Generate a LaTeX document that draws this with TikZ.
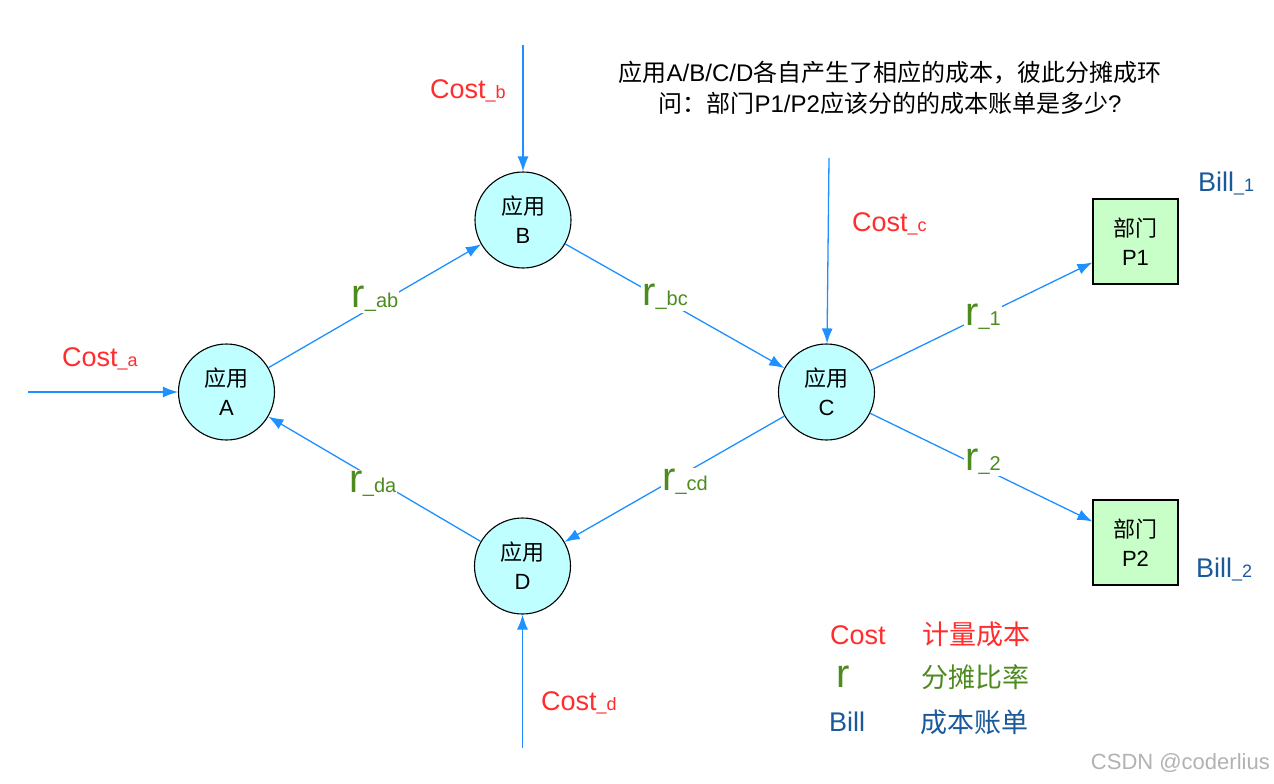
\documentclass[tikz,border=0pt]{standalone}
\usepackage{fontspec}
\setmainfont{Liberation Sans}
\newfontfamily\cjk{Noto Sans CJK SC}
\usetikzlibrary{arrows.meta}
\definecolor{flowblue}{HTML}{1E90FF}
\definecolor{cyanfill}{HTML}{C0FFFF}
\definecolor{greenfill}{HTML}{C8FFC8}
\definecolor{costred}{HTML}{FF2D2D}
\definecolor{rgreen}{HTML}{4D8B1F}
\definecolor{billblue}{HTML}{1A5A9A}
\newcommand\myfs[2]{\fontsize{#1}{#2}\selectfont}
\newcommand\zh[1]{{\cjk #1}}
\newcommand\rlab[1]{{\myfs{40}{40}r}{\myfs{20}{20}\_#1}}
\newcommand\costlab[1]{{\myfs{27}{27}Cost}{\myfs{18}{18}\_#1}}
\newcommand\billlab[1]{{\myfs{27}{27}Bill}{\myfs{18}{18}\_#1}}
\tikzset{
  app/.style={circle, draw=black, line width=1.1pt, fill=cyanfill, minimum size=96pt, inner sep=0pt, align=center, font=\myfs{22}{29}},
  dept/.style={rectangle, draw=black, line width=1.1pt, fill=greenfill, minimum width=85pt, minimum height=85pt, inner sep=0pt, align=center, font=\myfs{22}{29}},
  flow/.style={draw=flowblue, line width=1.3pt, -{Latex[length=15pt,width=11pt]}},
  rlbl/.style={fill=white, inner sep=1pt, text=rgreen},
  costtxt/.style={anchor=base west, inner sep=0pt, text=costred},
  billtxt/.style={anchor=base west, inner sep=0pt, text=billblue},
}
\begin{document}
\begin{tikzpicture}[x=1pt,y=-1pt]
\useasboundingbox[fill=white] (0,0) rectangle (1274,784);

% nodes
\node[app] (A) at (226.5,392) {\zh{应用}\\A};
\node[app] (B) at (523,220) {\zh{应用}\\B};
\node[app] (C) at (826.5,392) {\zh{应用}\\C};
\node[app] (D) at (522.5,566) {\zh{应用}\\D};
\node[dept] (P1) at (1135.5,241.5) {\zh{部门}\\P1};
\node[dept] (P2) at (1135.5,542.5) {\zh{部门}\\P2};

% cost inputs
\coordinate (ca) at (28,392);
\coordinate (cb) at (523,45);
\coordinate (cc) at (829,158);
\coordinate (cd) at (522.5,748);
\draw[flow] (ca) -- (A);
\draw[flow] (cb) -- (B);
\draw[flow] (cc) -- (C);
\draw[flow] (cd) -- (D);

% flows
\draw[flow] (A) -- (B);
\draw[flow] (B) -- (C);
\draw[flow] (C) -- (D);
\draw[flow] (D) -- (A);
\draw[flow] (C) -- (P1);
\draw[flow] (C) -- (P2);

% ratio labels
\node[rlbl] (rab) at (375,299) {\rlab{ab}};
\node[rlbl] (rbc) at (665,297) {\rlab{bc}};
\node[rlbl] (rcd) at (685,482) {\rlab{cd}};
\node[rlbl] (rda) at (373,484) {\rlab{da}};
\node[rlbl] (r1) at (983,317) {\rlab{1}};
\node[rlbl] (r2) at (983,462) {\rlab{2}};

% cost labels
\node[costtxt] (la) at (62,366) {\costlab{a}};
\node[costtxt] (lb) at (430,98) {\costlab{b}};
\node[costtxt] (lc) at (852,231) {\costlab{c}};
\node[costtxt] (ld) at (541,710) {\costlab{d}};

% bill labels
\node[billtxt] (b1) at (1198,191) {\billlab{1}};
\node[billtxt] (b2) at (1196,577) {\billlab{2}};

% title
\node[align=center, inner sep=0pt, font=\myfs{24}{31}] (title) at (890,88)
  {\zh{应用}A/B/C/D\zh{各自产生了相应的成本，彼此分摊成环}\\
   \zh{问：部门}P1/P2\zh{应该分的的成本账单是多少}?};

% legend
\node[costtxt] (lg1) at (830,644) {\myfs{27}{27}Cost};
\node[anchor=west, inner sep=0pt, text=costred, font=\myfs{27}{27}] (lg1t) at (922,634) {\zh{计量成本}};
\node[anchor=base west, inner sep=0pt, text=rgreen] (lg2) at (836,687) {\myfs{40}{40}r};
\node[anchor=west, inner sep=0pt, text=rgreen, font=\myfs{27}{27}] (lg2t) at (921,677) {\zh{分摊比率}};
\node[billtxt] (lg3) at (829,731) {\myfs{27}{27}Bill};
\node[anchor=west, inner sep=0pt, text=billblue, font=\myfs{27}{27}] (lg3t) at (920,722) {\zh{成本账单}};

% watermark
\node[anchor=east, inner sep=0pt, text=black!30, font=\myfs{22}{22}] (wm) at (1270,763) {CSDN @coderlius};
\end{tikzpicture}
\end{document}
